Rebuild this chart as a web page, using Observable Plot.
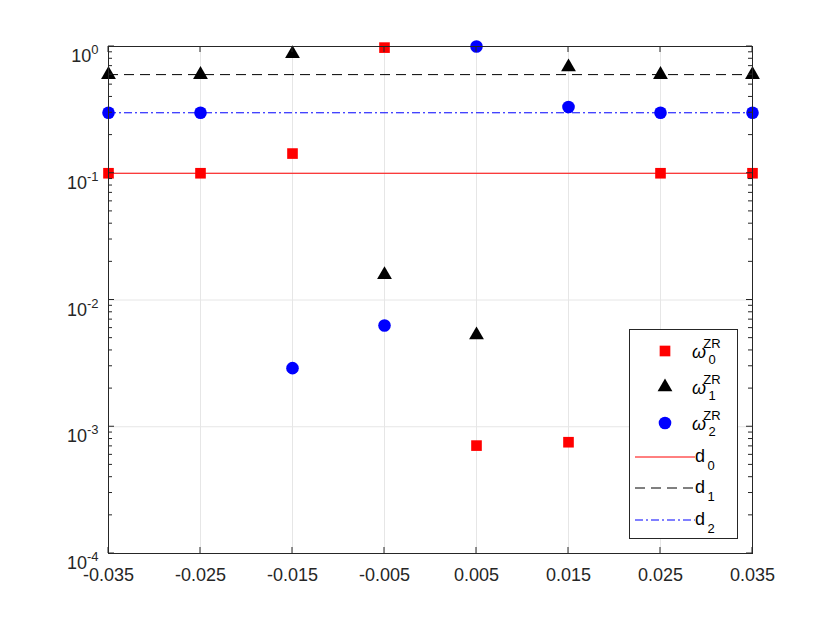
<!DOCTYPE html>
<html><head><meta charset="utf-8">
<script src="https://cdn.jsdelivr.net/npm/d3@7"></script>
<script src="https://cdn.jsdelivr.net/npm/@observablehq/plot@0.6"></script>
<style>
body{margin:0;background:#fff;}
#chart{position:absolute;left:0;top:0;}
</style>
</head><body><div id="chart"></div>
<script>
// ---- data ----
const xs = [-0.035, -0.025, -0.015, -0.005, 0.005, 0.015, 0.025, 0.035];
const omega0 = [0.1, 0.1, 0.143, 0.98, 0.00071, 0.000755, 0.1, 0.1];
const omega1 = [0.6, 0.6, 0.877, 0.0158, 0.0053, 0.689, 0.6, 0.6];
const omega2 = [0.3, 0.3, 0.0029, 0.0063, 1.0, 0.333, 0.3, 0.3];
const d0 = 0.1, d1 = 0.6, d2 = 0.3;
const xTicks = [-0.035, -0.025, -0.015, -0.005, 0.005, 0.015, 0.025, 0.035];
const yTicks = [1e-4, 1e-3, 1e-2, 1e-1, 1];
const xDomain = [-0.035, 0.035];
const yDomain = [1e-4, 1];

const table = xs.map((x, i) => ({x, w0: omega0[i], w1: omega1[i], w2: omega2[i]}));
const yMinor = [];
yTicks.slice(0, -1).forEach(t => { for (let k = 2; k <= 9; k++) yMinor.push(t * k); });

const ink = "#262626";
const font = "'Liberation Sans', Arial, Helvetica, sans-serif";

const chart = Plot.plot({
  width: 830, height: 623,
  marginLeft: 108, marginRight: 78, marginTop: 46, marginBottom: 70,
  style: {fontFamily: font, background: "white", color: ink},
  x: {domain: xDomain, label: null},
  y: {type: "log", domain: yDomain, label: null},
  marks: [
    Plot.gridX(xTicks, {stroke: "#e6e6e6", strokeOpacity: 1, strokeWidth: 1}),
    Plot.gridY(yTicks, {stroke: "#e6e6e6", strokeOpacity: 1, strokeWidth: 1}),
    Plot.ruleY([d0], {x1: xDomain[0], x2: xDomain[1], stroke: "#ff0000", strokeWidth: 1}),
    Plot.ruleY([d1], {x1: xDomain[0], x2: xDomain[1], stroke: "#000", strokeWidth: 1, strokeDasharray: "10,6"}),
    Plot.ruleY([d2], {x1: xDomain[0], x2: xDomain[1], stroke: "#0000ff", strokeWidth: 1, strokeDasharray: "8,3,2,3"}),
    Plot.dot(table, {x: "x", y: "w0", symbol: "square", fill: "#ff0000", r: 6}),
    Plot.dot(table, {x: "x", y: "w1", symbol: "triangle", fill: "#000", r: 5.5}),
    Plot.dot(table, {x: "x", y: "w2", symbol: "circle", fill: "#0000ff", r: 6.3}),
    Plot.frame({stroke: ink, strokeWidth: 1}),
    Plot.axisX(xTicks, {anchor: "bottom", tickSize: 0, tickPadding: 15, tickFormat: d => d.toFixed(3), fill: ink, label: null}),
    Plot.axisY(yTicks, {anchor: "left", tickSize: 0, tickPadding: 10, tickFormat: d => String(Math.round(Math.log10(d))), fill: ink, label: null})
  ]
});
document.getElementById("chart").appendChild(chart);

const svg = d3.select(chart);
const sx = chart.scale("x"), sy = chart.scale("y");
const X0 = sx.apply(xDomain[0]), X1 = sx.apply(xDomain[1]);
const Y0 = sy.apply(yDomain[0]), Y1 = sy.apply(yDomain[1]);

// x tick labels
svg.selectAll('g[aria-label="x-axis tick label"]').attr("font-size", 18).attr("font-family", font);
svg.selectAll('g[aria-label="x-axis tick label"] text').attr("font-size", 18);
// y tick labels: 10^n with superscript
svg.selectAll('g[aria-label="y-axis tick label"]').attr("font-size", 18).attr("font-family", font);
svg.selectAll('g[aria-label="y-axis tick label"] text').each(function() {
  const t = d3.select(this);
  const e = t.text();
  if (e === "") return;
  t.text("").attr("dy", "0.55em").attr("font-size", 18);
  t.append("tspan").text("10");
  t.append("tspan").attr("font-size", 13).attr("dy", "-0.62em").text(e);
});

// inward ticks (box style)
const tk = svg.append("g").attr("stroke", ink).attr("stroke-width", 1).attr("fill", "none");
xTicks.forEach(v => {
  const px = sx.apply(v);
  tk.append("line").attr("x1", px).attr("x2", px).attr("y1", Y0).attr("y2", Y0 - 6);
  tk.append("line").attr("x1", px).attr("x2", px).attr("y1", Y1).attr("y2", Y1 + 6);
});
yTicks.forEach(v => {
  const py = sy.apply(v);
  tk.append("line").attr("x1", X0).attr("x2", X0 + 6).attr("y1", py).attr("y2", py);
  tk.append("line").attr("x1", X1).attr("x2", X1 - 6).attr("y1", py).attr("y2", py);
});
yMinor.forEach(v => {
  const py = sy.apply(v);
  tk.append("line").attr("x1", X0).attr("x2", X0 + 4).attr("y1", py).attr("y2", py);
  tk.append("line").attr("x1", X1).attr("x2", X1 - 4).attr("y1", py).attr("y2", py);
});

// ---- legend ----
const lg = svg.append("g").attr("font-family", font).attr("fill", "#000");
lg.append("rect").attr("x", 629.5).attr("y", 329.5).attr("width", 108).attr("height", 209)
  .attr("fill", "white").attr("stroke", ink).attr("stroke-width", 1);
const markerEntries = [
  {y: 351, sym: d3.symbolSquare, size: 114, color: "#ff0000", sub: "0"},
  {y: 387, sym: d3.symbolTriangle, size: 95, color: "#000", sub: "1"},
  {y: 423, sym: d3.symbolCircle, size: 125, color: "#0000ff", sub: "2"}
];
markerEntries.forEach(e => {
  lg.append("path").attr("d", d3.symbol(e.sym, e.size)()).attr("transform", `translate(665,${e.y})`).attr("fill", e.color);
  const t = lg.append("text").attr("x", 699).attr("y", e.y + 6.5).attr("font-size", 18).attr("fill", "#000");
  t.append("tspan").attr("font-style", "italic").text("ω");
  t.append("tspan").attr("x", 712).attr("y", e.y - 3.5).attr("font-size", 13).text("ZR");
  t.append("tspan").attr("x", 712).attr("y", e.y + 12.5).attr("font-size", 13).text(e.sub);
});
const lineEntries = [
  {y: 457, color: "#ff0000", dash: null, sub: "0"},
  {y: 488, color: "#000", dash: "10,6", sub: "1"},
  {y: 520, color: "#0000ff", dash: "8,3,2,3", sub: "2"}
];
lineEntries.forEach(e => {
  lg.append("line").attr("x1", 635).attr("x2", 695).attr("y1", e.y).attr("y2", e.y)
    .attr("stroke", e.color).attr("stroke-width", 1).attr("stroke-dasharray", e.dash);
  const t = lg.append("text").attr("x", 700).attr("y", e.y + 5).attr("font-size", 18).attr("fill", "#000");
  t.append("tspan").text("d");
  t.append("tspan").attr("x", 711).attr("y", e.y + 13).attr("font-size", 13).text(e.sub);
});
</script>
</body></html>
